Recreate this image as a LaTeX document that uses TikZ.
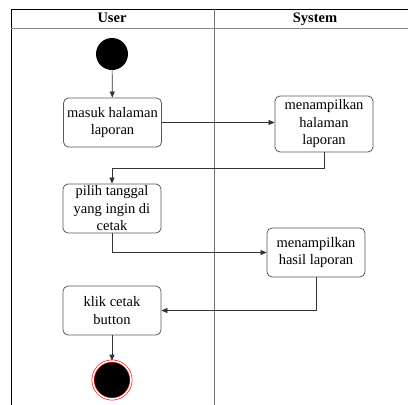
\documentclass[tikz,border=0pt]{standalone}
\usepackage{fontspec}
\setmainfont{Liberation Serif}
\usetikzlibrary{arrows.meta}
\begin{document}
\begin{tikzpicture}[x=1pt,y=-1pt,
		act/.style={draw=black!65, rounded corners=5pt, line width=0.8pt, align=center,
			minimum width=98pt, minimum height=49pt, inner sep=1pt,
			font=\fontsize{14.5}{17.5}\selectfont},
		lane/.style={font=\bfseries\fontsize{14.5}{17.5}\selectfont, text height=10pt, text depth=3pt},
		flow/.style={draw=black!80, line width=0.7pt, -{Triangle[length=6pt,width=5pt]}}]
		\useasboundingbox (0,0) rectangle (408,405);
		% swimlanes
		\draw[line width=0.8pt] (408,9) -- (11,9) -- (11,405);
		\draw[black!45, line width=1pt] (11,28) -- (408,28);
		\draw[black!55, line width=1pt] (214,9) -- (214,405);
		\node[lane] (user) at (112,18.5) {User};
		\node[lane] (system) at (315,18.5) {System};
		
		\node[circle, fill=black, minimum size=32pt, inner sep=0pt] (start) at (112,54) {};
		\node[act] (masuk) at (112.5,122.5) {masuk halaman\\laporan};
		\node[act, minimum height=56pt] (tampil) at (324,124) {menampilkan\\halaman\\laporan};
		\node[act] (pilih) at (112,208.5) {pilih tanggal\\yang ingin di\\cetak};
		\node[act] (hasil) at (316,252.5) {menampilkan\\hasil laporan};
		\node[act] (klik) at (112,310.5) {klik cetak\\button};
		\node[circle, draw=red, line width=0.6pt, double=white, double distance=1.6pt,
			fill=black, minimum size=38pt, inner sep=0pt] (end) at (112,380) {};
		
		\draw[flow] (start) -- (masuk);
		\draw[flow] (masuk) -- (masuk -| tampil.west);
		\draw[flow] (tampil.south) -- ++(0,16) -| (pilih.north);
		\draw[flow] (pilih.south) |- (hasil.west);
		\draw[flow] (hasil.south) |- (klik.east);
		\draw[flow] (klik) -- (end);
\end{tikzpicture}
\end{document}
